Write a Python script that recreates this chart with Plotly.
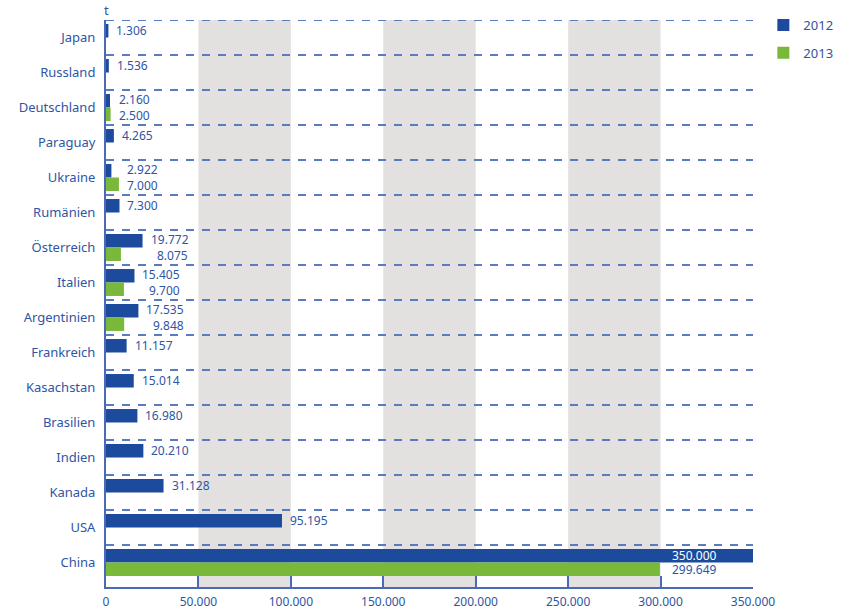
import plotly.graph_objects as go

categories = ["Japan", "Russland", "Deutschland", "Paraguay", "Ukraine", "Rumänien",
              "Österreich", "Italien", "Argentinien", "Frankreich", "Kasachstan",
              "Brasilien", "Indien", "Kanada", "USA", "China"]
values_2012 = [1306, 1536, 2160, 4265, 2922, 7300, 19772, 15405, 17535, 11157,
               15014, 16980, 20210, 31128, 95195, 350000]
values_2013 = [None, None, 2500, None, 7000, None, 8075, 9700, 9848, None,
               None, None, None, None, None, 299649]
x_tick_vals = [0, 50000, 100000, 150000, 200000, 250000, 300000, 350000]
shaded_bands = [(50000, 100000), (150000, 200000), (250000, 300000)]

BLUE = "#1c4a9c"
GREEN = "#79b83a"
TEXT = "#2f55a4"
LINE = "#4a6ab8"
DASH = "#5a7bc0"
FONT = "Noto Sans"


def fmt(v):
    return f"{v:,}".replace(",", ".")


fig = go.Figure()
fig.add_trace(go.Bar(y=categories, x=values_2012, orientation="h", name="2012",
                     marker=dict(color=BLUE, line=dict(width=0)), legendgroup="a",
                     hoverinfo="skip"))
fig.add_trace(go.Bar(y=categories, x=values_2013, orientation="h", name="2013",
                     marker=dict(color=GREEN, line=dict(width=0)), legendgroup="b",
                     hoverinfo="skip"))

for lo, hi in shaded_bands:
    fig.add_shape(type="rect", xref="x", yref="paper", x0=lo, x1=hi, y0=0, y1=1,
                  fillcolor="#e2e1df", line=dict(width=0), layer="below")
# dashed separators at the category boundaries (above each category)
for i in range(len(categories)):
    fig.add_shape(type="line", xref="paper", yref="y", x0=0, x1=1, y0=i - 0.5, y1=i - 0.5,
                  line=dict(color=DASH, width=1.8, dash="8px,8px"), layer="below")

annotations = []
digit_w = 6.9
for cat, a, b in zip(categories, values_2012, values_2013):
    if cat == "China":
        annotations.append(dict(x=a, y=cat, xref="x", yref="y", text=fmt(a),
                                xanchor="right", xshift=-34, yshift=7, showarrow=False,
                                font=dict(color="white", size=12, family=FONT)))
        annotations.append(dict(x=a, y=cat, xref="x", yref="y", text=fmt(b),
                                xanchor="right", xshift=-34, yshift=-7, showarrow=False,
                                font=dict(color=TEXT, size=12, family=FONT)))
        continue
    if b is None:
        annotations.append(dict(x=a, y=cat, xref="x", yref="y", text=fmt(a),
                                xanchor="left", xshift=6, yshift=7, showarrow=False,
                                font=dict(color=TEXT, size=12, family=FONT)))
    else:
        m = max(a, b)
        la, lb = len(fmt(a)), len(fmt(b))
        L = max(la, lb)
        annotations.append(dict(x=m, y=cat, xref="x", yref="y", text=fmt(a),
                                xanchor="left", xshift=6 + (L - la) * digit_w, yshift=8,
                                showarrow=False, font=dict(color=TEXT, size=12, family=FONT)))
        annotations.append(dict(x=m, y=cat, xref="x", yref="y", text=fmt(b),
                                xanchor="left", xshift=6 + (L - lb) * digit_w, yshift=-8,
                                showarrow=False, font=dict(color=TEXT, size=12, family=FONT)))

annotations.append(dict(x=0, y=1, xref="paper", yref="paper", text="t", xanchor="center",
                        yanchor="bottom", showarrow=False, yshift=-1,
                        font=dict(color=TEXT, size=13, family=FONT)))

fig.update_layout(
    width=850, height=609,
    margin=dict(l=106, r=97, t=20, b=22, autoexpand=False),
    paper_bgcolor="white", plot_bgcolor="white",
    barmode="group", bargap=0.23, bargroupgap=0,
    separators=",.",
    font=dict(family=FONT, color=TEXT, size=13),
    showlegend=True,
    legend=dict(x=1.016, xanchor="left", y=1.0176, yanchor="top", traceorder="grouped",
                tracegroupgap=8, font=dict(size=13, color=TEXT, family=FONT),
                bgcolor="rgba(0,0,0,0)"),
    annotations=annotations,
    xaxis=dict(range=[0, 350000], tickvals=x_tick_vals, tickformat=",d",
               showgrid=False, zeroline=False, showline=True, linecolor=LINE, linewidth=2,
               ticks="inside", ticklen=11, tickwidth=2, tickcolor=LINE,
               ticklabelstandoff=3,
               tickfont=dict(size=12, color=TEXT, family=FONT), automargin=False,
               fixedrange=True),
    yaxis=dict(categoryorder="array", categoryarray=categories,
               range=[len(categories) - 0.3, -0.5],
               showgrid=False, ticks="", showline=True, linecolor=LINE, linewidth=2,
               zeroline=False, ticklabelstandoff=6,
               tickfont=dict(size=13, color=TEXT, family=FONT), automargin=False,
               fixedrange=True),
)

fig.write_html("out.html", config={"displayModeBar": False},
               post_script="document.body.style.margin='0';document.body.style.overflow='hidden';")
